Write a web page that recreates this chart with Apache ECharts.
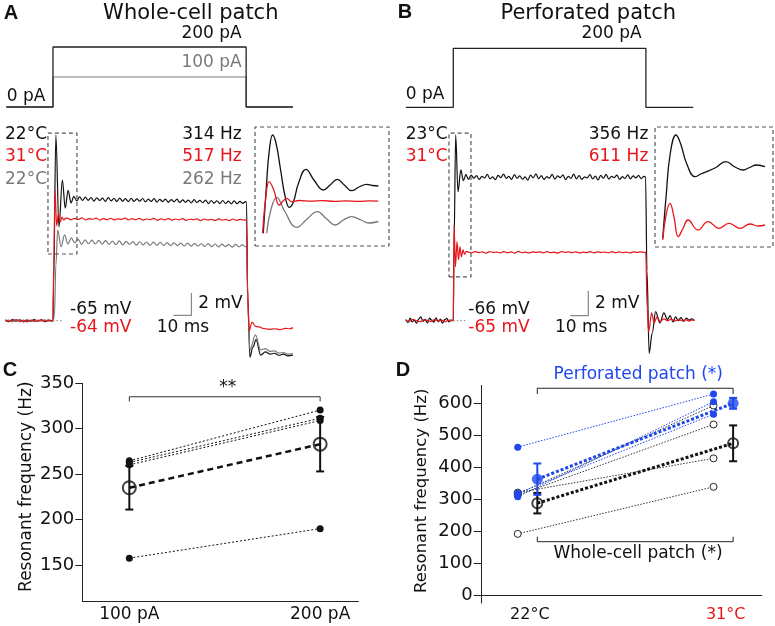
<!DOCTYPE html>
<html><head><meta charset="utf-8">
<script src="https://cdn.jsdelivr.net/npm/echarts@6/dist/echarts.min.js"></script>
<style>html,body{margin:0;padding:0;background:#fff}#c{width:775px;height:626px}</style>
</head><body><div id="c"></div>
<script>
// ================= DATA =================
// Stimulus steps (time in ms, current in pA)
const stimTimesA = [-26, 0, 0, 107.3, 107.3, 133.3];
const stim200A = [0, 0, 200, 200, 0, 0];
const stim100A = [0, 0, 100, 100, 0, 0];
const stimTimesB = [-26.4, 0, 0, 107, 107, 133.3];
const stim200B = [0, 0, 200, 200, 0, 0];

// Panel A voltage traces (time ms, deflection mV from rest)
const blackA_base = [0.05,-0.08,0.1,-0.05,0.08,-0.1,0.04,-0.06,0.1,-0.04,0.07,-0.09,0.05,-0.03];
const blackA_onset = [[0,0],[0.3,3],[1.6,16.65],[3.3,8.4],[5.2,12.6],[6.8,10.1],[8.4,11.7],[10,10.56],[11.6,11.15]];
const blackA_plateau = [10.75,11.1,10.78,11.08,10.8,11.05,10.72,11.02,10.78,11.0,
  10.7,11.04,10.74,10.98,10.7,11.0,10.72,10.95,10.68,10.98,
  10.7,10.92,10.72,10.96,10.66,10.9,10.7,10.94,10.64,10.88,
  10.68,10.9,10.62,10.86,10.66,10.9,10.6,10.84,10.62,10.82,
  10.56,10.86,10.6,10.8,10.58,10.82,10.5,10.78,10.55,10.76,
  10.5,10.78,10.52,10.72,10.48,10.74,10.5,10.7,10.52,10.68];
const blackA_offset = [[107.5,10.6],[108.2,2],[109.4,-3.27],[111,-2.4],[112.8,-1.7],[115.4,-3.08],[118,-2.8],[120.6,-3.0],[123,-2.92],[125.5,-3.1],[128,-3.0],[130.5,-3.15],[133.3,-3.08]];

const grayA_base = [-0.04,0.06,-0.1,0.03,0.07,-0.06,0.1,-0.02,-0.08,0.05,-0.03,0.08,-0.05,0.02];
const grayA_onset = [[0,0],[0.8,0.5],[1.6,5],[2.6,8.13],[4.5,6.64],[6.4,7.69],[8.3,6.88],[10.2,7.42],[12.1,6.97]];
const grayA_plateau = [7.3,6.85,7.25,6.9,7.22,6.88,7.2,6.86,7.18,6.84,
  7.15,6.82,7.16,6.8,7.12,6.84,7.1,6.78,7.08,6.8,
  7.06,6.76,7.04,6.78,7.02,6.74,7.0,6.72,6.98,6.74,
  6.96,6.7,6.95,6.68,6.94,6.7,6.9,6.66,6.92,6.64,
  6.88,6.62,6.86,6.64,6.85,6.6,6.84,6.62,6.8,6.62];
const grayA_offset = [[107.5,6.7],[108.3,1],[109.4,-2.62],[112.5,-1.28],[115.3,-2.62],[118,-2.5],[120.6,-2.75],[123,-2.7],[125.5,-2.9],[128,-2.85],[130.5,-3.0],[133.3,-2.95]];

const redA_base = [0.08,-0.05,0.02,0.1,-0.08,0.05,-0.1,0.06,0.02,-0.07,0.09,-0.04,0.06,0.0];
const redA_onset = [[0,0],[0.4,5],[1.1,11.7],[2.05,8.5],[3.0,9.6],[4.0,8.85],[5.0,9.3],[6.0,9.03],[7,9.2]];
const redA_plateau = [9.2,9.05,9.18,9.08,9.22,9.04,9.15,9.1,9.2,9.02,
  9.16,9.06,9.19,9.05,9.14,9.08,9.2,9.03,9.15,9.06,
  9.18,9.02,9.12,9.07,9.17,9.0,9.14,9.05,9.16,9.02,
  9.12,9.04,9.15,9.0,9.1,9.06,9.14,8.98,9.12,9.03,
  9.1,8.99,9.13,9.02,9.08,8.98,9.12,9.0,9.08,9.02];
const redA_offset = [[107.4,9.05],[108.1,3],[108.9,-0.93],[110.6,-0.12],[112.5,-0.5],[114.5,-0.55],[117,-0.7],[120,-0.78],[123,-0.72],[126,-0.8],[129,-0.68],[131.5,-0.72],[133.3,-0.62]];

// Panel A inset (expanded onset, ms / arbitrary units)
const insetA_black = [[0.13,1.27],[0.45,6],[0.75,9.6],[1.09,11.1],[1.45,10.2],[1.9,7.6],[2.35,5.0],[2.79,3.87],[3.2,4.4],[3.7,6.2],[4.49,7.67],[5.3,6.6],[6.26,5.6],[6.95,6.1],[7.68,6.67],[8.4,6.1],[9.15,5.53],[9.9,5.9],[10.68,6.17],[11.3,6.05],[11.87,6.0]];
const insetA_red = [[0.07,1.27],[0.35,4.5],[0.74,6.43],[1.2,5.6],[1.77,4.1],[2.15,4.5],[2.52,4.77],[3.03,4.43],[3.8,4.55],[5,4.48],[6.2,4.53],[7.4,4.47],[8.6,4.52],[9.8,4.46],[11,4.51],[11.87,4.48]];
const insetA_gray = [[0.48,1.27],[0.9,3.6],[1.5,4.87],[2.3,3.5],[3.54,1.87],[4.6,2.7],[5.64,3.43],[6.6,2.7],[7.48,2.1],[8.3,2.6],[9.15,2.93],[10.1,2.6],[10.9,2.3],[11.87,2.45]];

// Panel B voltage traces
const blackB_base = [0.1,-0.15,0.2,-0.1,0.05,-0.2,0.15,0.3,-0.05,0.1,-0.18,0.2,0.05,-0.12,0.22,-0.08,0.12,-0.2,0.08,0.18,-0.1,0.05];
const blackB_onset = [[0,0],[0.4,6],[1.33,14.86],[2.6,10.32],[4.2,12.06],[5.6,11.2],[7.0,11.7]];
const blackB_plateau = [11.3,11.65,11.4,11.6,11.3,11.55,11.42,11.7,11.35,11.5,
  11.28,11.62,11.45,11.72,11.38,11.55,11.3,11.68,11.4,11.58,
  11.33,11.5,11.25,11.65,11.42,11.75,11.36,11.6,11.3,11.52,
  11.4,11.7,11.32,11.58,11.45,11.66,11.28,11.55,11.38,11.72,
  11.35,11.6,11.3,11.5,11.42,11.68,11.34,11.57,11.26,11.62,
  11.4,11.7,11.33,11.55,11.45,11.64,11.3,11.52,11.38,11.66,
  11.35,11.58,11.42,11.62,11.36,11.55];
const blackB_offset = [[106.8,11.5],[107.6,4],[108.8,-2.61],[110.5,-1],[112.4,0.72],[114.8,-0.18],[117,0.62],[119,0.1],[120.5,0.4],[122,-0.1],[123.5,0.3],[125,0.0],[126.5,0.25],[128,-0.05],[129.5,0.2],[131,0.05],[132.5,0.15],[134,0.02]];

const redB_base = [0.05,-0.05,0.1,0.0,-0.08,0.06,0.02,-0.06,0.08,-0.02,0.04,-0.07,0.05,0.0];
const redB_onset = [[0,0],[0.4,7.66],[1.2,4.32],[2.06,6.32],[2.9,4.86],[3.7,5.92],[4.5,5.12],[5.4,5.66],[6.3,5.3],[7.2,5.55]];
const redB_plateau = [5.5,5.42,5.52,5.45,5.5,5.4,5.53,5.46,5.49,5.43,
  5.52,5.44,5.5,5.41,5.54,5.45,5.48,5.42,5.51,5.46,
  5.5,5.43,5.52,5.44,5.49,5.41,5.53,5.46,5.5,5.44,
  5.51,5.42,5.48,5.45,5.52,5.43,5.5,5.46,5.49,5.42,
  5.53,5.44,5.5,5.45,5.48,5.43,5.51,5.46,5.5,5.47];
const redB_offset = [[106.9,5.47],[107.7,1],[108.5,-0.88],[110.2,0.62],[111.5,-0.18],[113.2,0.3],[115,-0.05],[117,0.15],[119,0.0],[121,0.12],[123,-0.02],[125,0.1],[127,0.0],[129,0.08],[131,-0.03],[133,0.06],[134,0.02]];

const insetB_black = [[-0.02,0.87],[0.25,5],[0.6,9.4],[1.07,11.2],[1.45,10.3],[1.95,8.3],[2.62,7.03],[3.1,7.3],[3.58,7.53],[4.26,7.9],[5.16,8.53],[5.9,8.0],[6.58,7.7],[7.1,7.95],[7.68,8.2],[8.36,8.03]];
const insetB_red = [[-0.02,0.7],[0.25,3.2],[0.57,4.37],[0.9,3.0],[1.25,1.03],[1.65,1.9],[2.05,2.7],[2.87,1.7],[3.69,2.53],[4.59,1.87],[5.41,2.37],[6.31,1.87],[7.13,2.3],[7.8,2.1],[8.36,2.2]];

// Panel C: resonant frequency (Hz) at 100 / 200 pA
const catsC = ['100 pA', '200 pA'];
const cellsC_100 = [264.6, 262.8, 260.2, 157.5];
const cellsC_200 = [320.5, 311.6, 309, 190];
const meanC = [235, 283];
const semC = [24, 30];
const ticksC = [150, 200, 250, 300, 350];

// Panel D: resonant frequency (Hz) at 22 / 31 °C
const catsD = ['22°C', '31°C'];
const wc22 = [316, 312, 320, 191];
const wc31 = [592, 533, 427, 338];
const pp22 = [462, 307, 318];
const pp31 = [628, 604, 565];
const meanWC = [287, 474];
const semWC = [32, 56];
const meanPP = [362, 599];
const semPP = [49, 17];
const ticksD = [0, 100, 200, 300, 400, 500, 600];

// ================= BUILD =================
const BLACK = '#111', RED = '#e8161b', GRAY = '#7a7a7a', BLUE = '#1f47ee';
const FONT = 'DejaVu Sans';
function seq(start, step, vals) { return vals.map((v, i) => [+(start + i * step).toFixed(3), v]); }
function zip(xs, ys) { return xs.map((x, i) => [x, ys[i]]); }

const blackA = [...seq(-26.5, 2, blackA_base), ...blackA_onset, ...seq(13.2, 1.59, blackA_plateau), ...blackA_offset];
const grayA = [...seq(-26.5, 2, grayA_base), ...grayA_onset, ...seq(14.0, 1.9, grayA_plateau), ...grayA_offset];
const redA = [...seq(-26.5, 2, redA_base), ...redA_onset, ...seq(8, 2, redA_plateau), ...redA_offset];
const blackB = [...seq(-26.4, 1.2, blackB_base), ...blackB_onset, ...seq(8.4, 1.5, blackB_plateau), ...blackB_offset];
const redB = [...seq(-26.4, 2, redB_base), ...redB_onset, ...seq(8.1, 2, redB_plateau), ...redB_offset];

function trace(data, color, xi, w, z) {
  return { type: 'line', xAxisIndex: xi, yAxisIndex: xi, data, symbol: 'none', smooth: 0.35, smoothMonotone: 'x',
    lineStyle: { color, width: w || 1.2 }, silent: true, z: z || 2 };
}
function insetTrace(data, color, xi) {
  return { type: 'line', xAxisIndex: xi, yAxisIndex: xi, data, symbol: 'none', smooth: 0.45,
    lineStyle: { color, width: 1.3 }, silent: true };
}
function poly(data, color, xi, w, type, extra) {
  return Object.assign({ type: 'line', xAxisIndex: xi, yAxisIndex: xi, data, symbol: 'none',
    lineStyle: { color, width: w || 1, type: type || 'solid' }, silent: true }, extra || {});
}
function errRender(color, cap, lw) {
  return function (params, api) {
    const x = api.value(0), lo = api.value(1), hi = api.value(2);
    const a = api.coord([x, lo]), b = api.coord([x, hi]);
    const st = { stroke: color, lineWidth: lw };
    return { type: 'group', children: [
      { type: 'line', shape: { x1: a[0], y1: a[1], x2: b[0], y2: b[1] }, style: st },
      { type: 'line', shape: { x1: a[0] - cap, y1: a[1], x2: a[0] + cap, y2: a[1] }, style: st },
      { type: 'line', shape: { x1: b[0] - cap, y1: b[1], x2: b[0] + cap, y2: b[1] }, style: st }
    ]};
  };
}
function hidden(min, max, gi) { return { type: 'value', gridIndex: gi, min, max, show: false }; }

const grids = [
  { left: 2.6, top: 41, width: 295.2, height: 72 },      // 0 stim A
  { left: 2.6, top: 120, width: 295.2, height: 245.3 },  // 1 trace A
  { left: 255, top: 127, width: 134, height: 119 },      // 2 inset A
  { left: 402.9, top: 42.4, width: 295.2, height: 70.8 },// 3 stim B
  { left: 402.9, top: 120.7, width: 295.2, height: 243.75 }, // 4 trace B
  { left: 655, top: 127, width: 118, height: 120 },      // 5 inset B
  { left: 82.3, top: 383.3, width: 276, height: 218 },   // 6 C
  { left: 481.7, top: 385.4, width: 280, height: 217.6 } // 7 D
];

const axisLineStyle = { lineStyle: { color: '#222', width: 1 } };
const xAxes = [
  hidden(-28, 136, 0), hidden(-28, 136, 1), hidden(-0.714, 12.96, 2),
  hidden(-28, 136, 3), hidden(-28, 136, 4), hidden(-0.656, 9.016, 5),
  { type: 'value', gridIndex: 6, min: 0.7535, max: 2.2, axisLine: axisLineStyle, axisTick: { show: false }, splitLine: { show: false },
    axisLabel: { customValues: [1, 2], formatter: (v, i) => catsC[Math.round(v) - 1], margin: 5, fontSize: 17, fontFamily: FONT, color: '#111' } },
  { type: 'value', gridIndex: 7, min: 0.766, max: 2.196, axisLine: axisLineStyle, axisTick: { show: false }, splitLine: { show: false },
    axisLabel: { customValues: [1.012, 2.012], formatter: (v) => catsD[Math.round(v) - 1], margin: 4, fontSize: 16, fontFamily: FONT,
      color: (v) => (Math.round(v) === 2 ? RED : '#111') } }
];
const yAxes = [
  hidden(-20, 220, 0), hidden(-4, 18, 1), hidden(0, 11.9, 2),
  hidden(-20, 220, 3), hidden(-3.5, 16, 4), hidden(0, 12, 5),
  { type: 'value', gridIndex: 6, min: 110, max: 350, axisLine: { show: true, lineStyle: { color: '#222', width: 1 } },
    axisTick: { show: true, length: 7, customValues: ticksC, lineStyle: { color: '#222' } }, splitLine: { show: false },
    axisLabel: { customValues: ticksC, margin: 8, fontSize: 18, fontFamily: FONT, color: '#111' } },
  { type: 'value', gridIndex: 7, min: -25, max: 655, axisLine: { show: true, lineStyle: { color: '#222', width: 1 } },
    axisTick: { show: true, length: 8, customValues: ticksD, lineStyle: { color: '#222' } }, splitLine: { show: false },
    axisLabel: { customValues: ticksD, margin: 9, fontSize: 18, fontFamily: FONT, color: '#111' } }
];

const series = [];
// stimulus
series.push(poly(zip(stimTimesA, stim100A), GRAY, 0, 1.1));
series.push(poly(zip(stimTimesA, stim200A), '#222', 0, 1.3));
series.push(poly(zip(stimTimesB, stim200B), '#222', 3, 1.3));
// trace A
series.push(trace(blackA, BLACK, 1));
series.push(trace(grayA, GRAY, 1));
series.push(trace(redA, RED, 1));
series.push(poly([[0, 0], [5.5, 0]], '#999', 1, 1.2, [1.5, 2]));
series.push(poly([[66.9, 0.48], [76.9, 0.48], [76.9, 2.48]], '#888', 1, 1.2));
series.push(poly([[-2.8, 5.98], [13.3, 5.98], [13.3, 16.83], [-2.8, 16.83], [-2.8, 5.98]], '#555', 1, 1.2, [4, 3]));
// inset A
series.push(poly([[-0.714, 0], [12.96, 0], [12.96, 11.9], [-0.714, 11.9], [-0.714, 0]], '#555', 2, 1.2, [4, 3], { clip: false }));
series.push(insetTrace(insetA_gray, GRAY, 2));
series.push(insetTrace(insetA_black, BLACK, 2));
series.push(insetTrace(insetA_red, RED, 2));
// trace B
series.push(trace(blackB, BLACK, 4));
series.push(trace(redB, RED, 4));
series.push(poly([[0, 0], [7, 0]], '#999', 4, 1.2, [1.5, 2]));
series.push(poly([[65, 0.4], [75, 0.4], [75, 2.4]], '#888', 4, 1.2));
series.push(poly([[-2.4, 3.5], [9.8, 3.5], [9.8, 15.0], [-2.4, 15.0], [-2.4, 3.5]], '#555', 4, 1.2, [4, 3]));
// inset B
series.push(poly([[-0.656, 0], [9.016, 0], [9.016, 12], [-0.656, 12], [-0.656, 0]], '#555', 5, 1.2, [4, 3], { clip: false }));
series.push(insetTrace(insetB_black, BLACK, 5));
series.push(insetTrace(insetB_red, RED, 5));

// Panel C
cellsC_100.forEach((v, i) => {
  series.push({ type: 'line', xAxisIndex: 6, yAxisIndex: 6, data: [[1, v], [2, cellsC_200[i]]], symbol: 'circle', symbolSize: 7,
    itemStyle: { color: BLACK }, lineStyle: { color: BLACK, width: 1, type: [2, 2] }, silent: true });
});
series.push({ type: 'line', xAxisIndex: 6, yAxisIndex: 6, data: [[1, meanC[0]], [2, meanC[1]]], symbol: 'none',
  lineStyle: { color: BLACK, width: 2.5, type: [6, 4] }, silent: true });
series.push({ type: 'custom', xAxisIndex: 6, yAxisIndex: 6, renderItem: errRender(BLACK, 4, 2), encode: { x: 0, y: [1, 2] },
  data: meanC.map((m, i) => [i + 1, m - semC[i], m + semC[i]]), silent: true });
series.push({ type: 'scatter', xAxisIndex: 6, yAxisIndex: 6, data: meanC.map((m, i) => [i + 1, m]), symbol: 'circle', symbolSize: 13,
  itemStyle: { color: 'rgba(255,255,255,0)', borderColor: BLACK, borderWidth: 2 }, silent: true, z: 3 });
series.push(poly([[1, 330], [1, 335.2], [2, 335.2], [2, 330]], '#333', 6, 1));

// Panel D
wc22.forEach((v, i) => {
  series.push({ type: 'line', xAxisIndex: 7, yAxisIndex: 7, data: [[0.95, v], [1.95, wc31[i]]], symbol: 'circle', symbolSize: 7,
    itemStyle: { color: '#fff', borderColor: '#222', borderWidth: 1 }, lineStyle: { color: '#333', width: 1, type: [1.5, 1.5] }, silent: true });
});
pp22.forEach((v, i) => {
  series.push({ type: 'line', xAxisIndex: 7, yAxisIndex: 7, data: [[0.95, v], [1.95, pp31[i]]], symbol: 'circle', symbolSize: 7,
    itemStyle: { color: BLUE }, lineStyle: { color: BLUE, width: 1, type: [1.5, 1.5] }, silent: true });
});
series.push({ type: 'line', xAxisIndex: 7, yAxisIndex: 7, data: [[1.05, meanWC[0]], [2.05, meanWC[1]]], symbol: 'none',
  lineStyle: { color: BLACK, width: 3, type: [3, 2] }, silent: true });
series.push({ type: 'custom', xAxisIndex: 7, yAxisIndex: 7, renderItem: errRender(BLACK, 4, 2), encode: { x: 0, y: [1, 2] },
  data: meanWC.map((m, i) => [i + 1.05, m - semWC[i], m + semWC[i]]), silent: true });
series.push({ type: 'scatter', xAxisIndex: 7, yAxisIndex: 7, data: meanWC.map((m, i) => [i + 1.05, m]), symbol: 'circle', symbolSize: 10,
  itemStyle: { color: 'rgba(255,255,255,0)', borderColor: BLACK, borderWidth: 2 }, silent: true, z: 3 });
series.push({ type: 'line', xAxisIndex: 7, yAxisIndex: 7, data: [[1.05, meanPP[0]], [2.05, meanPP[1]]], symbol: 'none',
  lineStyle: { color: BLUE, width: 3, type: [3, 2] }, silent: true, z: 3 });
series.push({ type: 'custom', xAxisIndex: 7, yAxisIndex: 7, renderItem: errRender(BLUE, 4, 2), encode: { x: 0, y: [1, 2] },
  data: meanPP.map((m, i) => [i + 1.05, m - semPP[i], m + semPP[i]]), silent: true, z: 3 });
series.push({ type: 'scatter', xAxisIndex: 7, yAxisIndex: 7, data: meanPP.map((m, i) => [i + 1.05, m]), symbol: 'circle', symbolSize: 11,
  itemStyle: { color: BLUE }, silent: true, z: 4 });
series.push(poly([[1.05, 628], [1.05, 646], [2.05, 646], [2.05, 628]], '#222', 7, 1));
series.push(poly([[1.05, 182], [1.05, 166.6], [2.05, 166.6], [2.05, 182]], '#222', 7, 1));

// Text
function T(text, x, y, o) {
  o = o || {};
  return { type: 'text', x, y, rotation: o.rot || 0, silent: true, z: 10,
    style: { text, fill: o.color || '#111', fontSize: o.size || 17, fontFamily: o.family || FONT, fontWeight: o.weight || 'normal',
      textAlign: o.align || 'left', align: o.align || 'left', textVerticalAlign: 'middle', verticalAlign: 'middle' } };
}
const L = { family: 'Liberation Sans', weight: 'bold', size: 20, align: 'center' };
const graphic = [
  T('A', 11, 13.5, L), T('B', 405, 12, L), T('C', 10, 370, L), T('D', 403, 370, L),
  T('Whole-cell patch', 190.8, 13.5, { size: 21, align: 'center' }),
  T('Perforated patch', 588.3, 13.5, { size: 21, align: 'center' }),
  T('200 pA', 241.7, 34, { align: 'right' }),
  T('100 pA', 241.7, 62.5, { align: 'right', color: GRAY }),
  T('0 pA', 6.7, 97, {}),
  T('200 pA', 641.7, 33.5, { align: 'right' }),
  T('0 pA', 405.7, 94.5, {}),
  T('22°C', 5, 134.5, {}), T('31°C', 5, 156.7, { color: RED }), T('22°C', 5, 180, { color: GRAY }),
  T('314 Hz', 241.7, 134.5, { align: 'right' }), T('517 Hz', 241.7, 156.7, { align: 'right', color: RED }), T('262 Hz', 241.7, 180, { align: 'right', color: GRAY }),
  T('23°C', 405.7, 134.5, {}), T('31°C', 405.7, 156.7, { color: RED }),
  T('356 Hz', 648.3, 134.5, { align: 'right' }), T('611 Hz', 648.3, 156.7, { align: 'right', color: RED }),
  T('-65 mV', 70, 309.3, {}), T('-64 mV', 70, 327.3, { color: RED }),
  T('2 mV', 198.3, 303.3, {}), T('10 ms', 156.7, 327.3, {}),
  T('-66 mV', 468.3, 309.3, {}), T('-65 mV', 468.3, 327.3, { color: RED }),
  T('2 mV', 595, 303.3, {}), T('10 ms', 555, 327.3, {}),
  T('Resonant frequency (Hz)', 26.7, 486.7, { align: 'center', rot: Math.PI / 2 }),
  T('Resonant frequency (Hz)', 421.7, 490.8, { align: 'center', rot: Math.PI / 2, size: 16.5 }),
  T('**', 227.7, 388, { align: 'center' }),
  T('Perforated patch (*)', 638.3, 375, { align: 'center', color: BLUE }),
  T('Whole-cell patch (*)', 638, 553.3, { align: 'center' })
];

const chart = echarts.init(document.getElementById('c'), null, { renderer: 'canvas' });
chart.setOption({
  animation: false, backgroundColor: '#fff',
  grid: grids, xAxis: xAxes, yAxis: yAxes, series, graphic
});
</script></body></html>
